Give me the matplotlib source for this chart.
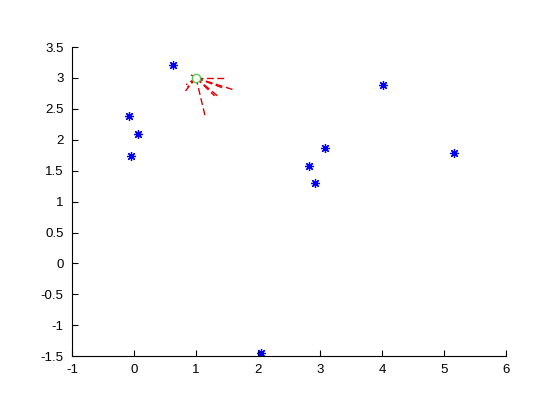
import numpy as np
import matplotlib
matplotlib.use('Agg')
import matplotlib.pyplot as plt

# point cloud (blue stars)
pts_x = [0.63, -0.08, 0.06, -0.05, 2.05, 2.82, 2.92, 3.08, 4.02, 5.16]
pts_y = [3.21, 2.38, 2.09, 1.74, -1.45, 1.57, 1.30, 1.87, 2.89, 1.78]

# centre point (green circle)
cx, cy = 1.0, 3.0

# ends of the red dashed segments drawn from the centre
end_x = [0.92, 0.84, 0.86, 0.83, 1.15, 1.37, 1.30, 1.43, 1.47, 1.60]
end_y = [3.05, 2.89, 2.85, 2.79, 2.37, 2.69, 2.71, 2.84, 3.00, 2.81]

xticks = [-1, 0, 1, 2, 3, 4, 5, 6]
yticks = [-1.5, -1, -0.5, 0, 0.5, 1, 1.5, 2, 2.5, 3, 3.5]

plt.rcParams['font.family'] = ['Liberation Sans', 'DejaVu Sans']

fig = plt.figure(figsize=(5.6, 4.2), dpi=100)
ax = fig.add_axes([0.1286, 0.152, 0.775, 0.736])

for ex, ey in zip(end_x, end_y):
    ax.plot([cx, ex], [cy, ey], color='#dd0000', ls='--', lw=1.0, dashes=(5, 2.5))

# matlab style asterisk markers
ax.plot(pts_x, pts_y, linestyle='none', marker=(8, 2, 0), color='#0000ee', ms=6.5, mew=0.9)
ax.plot([cx], [cy], 'o', mfc='white', mec='#44cc44', ms=6, mew=0.9)

ax.set_xlim(-1, 6)
ax.set_ylim(-1.5, 3.5)
ax.set_xticks(xticks)
ax.set_yticks(yticks)
ax.set_xticklabels([str(t) for t in xticks])
ax.set_yticklabels(['%g' % t for t in yticks])

ax.spines['top'].set_visible(False)
ax.spines['right'].set_visible(False)
ax.spines['left'].set_linewidth(0.8)
ax.spines['bottom'].set_linewidth(0.8)
ax.tick_params(direction='in', length=4, width=0.8, labelsize=9.5, pad=6)

fig.savefig('out.png', dpi=100)
